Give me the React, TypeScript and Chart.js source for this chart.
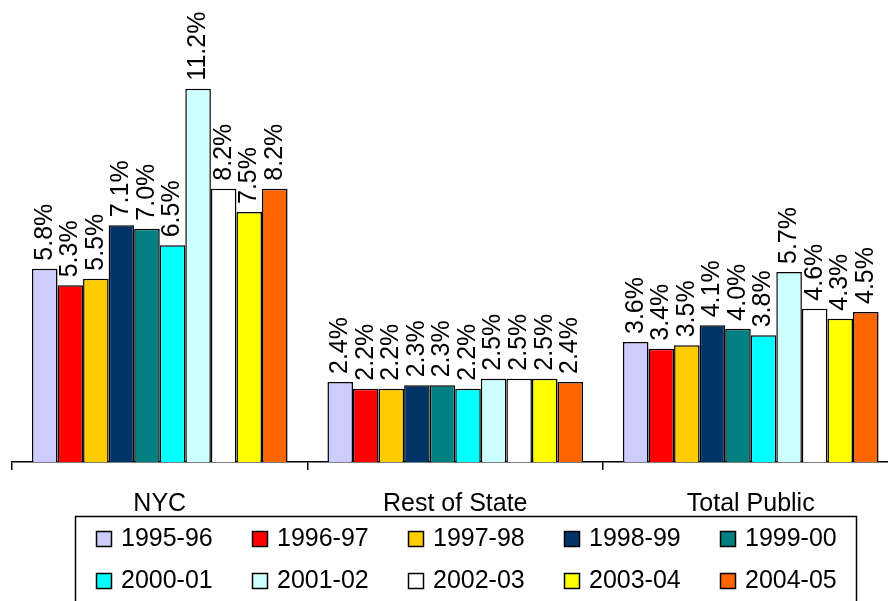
import React, { useEffect, useRef } from 'react';
import { Chart, registerables } from 'chart.js';

Chart.register(...registerables);

const FONT = '"Liberation Sans", Arial, Helvetica, sans-serif';

const categories = ['NYC', 'Rest of State', 'Total Public'];

const seriesLabels = ['1995-96', '1996-97', '1997-98', '1998-99', '1999-00', '2000-01', '2001-02', '2002-03', '2003-04', '2004-05'];

const seriesColors = ['#CCCCFF', '#FF0000', '#FFCC00', '#003366', '#008080', '#00FFFF', '#CCFFFF', '#FFFFFF', '#FFFF00', '#FF6600'];

const v1995_96 = [5.8, 2.4, 3.6];
const v1996_97 = [5.3, 2.2, 3.4];
const v1997_98 = [5.5, 2.2, 3.5];
const v1998_99 = [7.1, 2.3, 4.1];
const v1999_00 = [7.0, 2.3, 4.0];
const v2000_01 = [6.5, 2.2, 3.8];
const v2001_02 = [11.2, 2.5, 5.7];
const v2002_03 = [8.2, 2.5, 4.6];
const v2003_04 = [7.5, 2.5, 4.3];
const v2004_05 = [8.2, 2.4, 4.5];

const seriesValues = [v1995_96, v1996_97, v1997_98, v1998_99, v1999_00, v2000_01, v2001_02, v2002_03, v2003_04, v2004_05];

const yMin = 0;
const yMax = 12;

const valueLabelPlugin = {
  id: 'valueLabels',
  afterDatasetsDraw(chart: any) {
    const ctx = chart.ctx;
    chart.data.datasets.forEach((ds: any, i: number) => {
      const meta = chart.getDatasetMeta(i);
      meta.data.forEach((bar: any, j: number) => {
        const v = ds.data[j];
        ctx.save();
        ctx.translate(bar.x, bar.y - 8);
        ctx.rotate(-Math.PI / 2);
        ctx.font = `25px ${FONT}`;
        ctx.fillStyle = '#000';
        ctx.textAlign = 'left';
        ctx.textBaseline = 'middle';
        ctx.fillText(v.toFixed(1) + '%', 0, 0);
        ctx.restore();
      });
    });
  },
};

const boxLegendPlugin = {
  id: 'boxLegend',
  afterDraw(chart: any) {
    const ctx = chart.ctx;
    ctx.save();
    ctx.strokeStyle = '#000';
    ctx.lineWidth = 1.5;
    ctx.strokeRect(75.5, 516.5, 781, 120);
    ctx.font = `25px ${FONT}`;
    ctx.textAlign = 'left';
    ctx.textBaseline = 'alphabetic';
    const colX = 96;
    const colStep = 156;
    const rowBoxTop = [531, 573];
    const rowBase = [546, 588];
    chart.data.datasets.forEach((ds: any, i: number) => {
      const row = Math.floor(i / 5);
      const col = i % 5;
      const x = colX + col * colStep;
      ctx.fillStyle = ds.backgroundColor;
      ctx.fillRect(x, rowBoxTop[row], 15, 15);
      ctx.lineWidth = 1.5;
      ctx.strokeStyle = '#000';
      ctx.strokeRect(x + 0.5, rowBoxTop[row] + 0.5, 15, 15);
      ctx.fillStyle = '#000';
      ctx.fillText(ds.label, x + 25, rowBase[row]);
    });
    ctx.restore();
  },
};

export default function App() {
  const canvasRef = useRef<HTMLCanvasElement | null>(null);

  useEffect(() => {
    if (!canvasRef.current) return;
    const chart = new Chart(canvasRef.current, {
      type: 'bar',
      data: {
        labels: categories,
        datasets: seriesLabels.map((label, i) => ({
          label,
          data: seriesValues[i],
          backgroundColor: seriesColors[i],
          borderColor: '#000',
          borderWidth: 1.5,
          barPercentage: 1,
          categoryPercentage: 0.865,
        })),
      },
      options: {
        responsive: false,
        animation: false,
        layout: { padding: { top: 62, left: 12, right: 1.5, bottom: 0 } },
        plugins: {
          legend: { display: false },
          tooltip: { enabled: false },
          title: { display: false },
        },
        scales: {
          x: {
            type: 'category',
            offset: true,
            grid: {
              display: true,
              offset: true,
              drawOnChartArea: false,
              drawTicks: true,
              tickLength: 8,
              color: '#000',
              lineWidth: 1.5,
            },
            border: { display: true, color: '#000', width: 1.5 },
            ticks: {
              color: '#000',
              font: { size: 25, family: FONT },
              padding: 19,
              maxRotation: 0,
              autoSkip: false,
            },
            afterFit: (scale: any) => {
              scale.height = 139;
            },
          },
          y: {
            display: false,
            min: yMin,
            max: yMax,
          },
        },
      },
      plugins: [valueLabelPlugin, boxLegendPlugin],
    });
    return () => chart.destroy();
  }, []);

  return (
    <div style={{ position: 'fixed', left: 0, top: 0, width: 888, height: 601, overflow: 'hidden', background: '#fff' }}>
      <canvas ref={canvasRef} width={900} height={601} style={{ display: 'block' }} />
    </div>
  );
}
